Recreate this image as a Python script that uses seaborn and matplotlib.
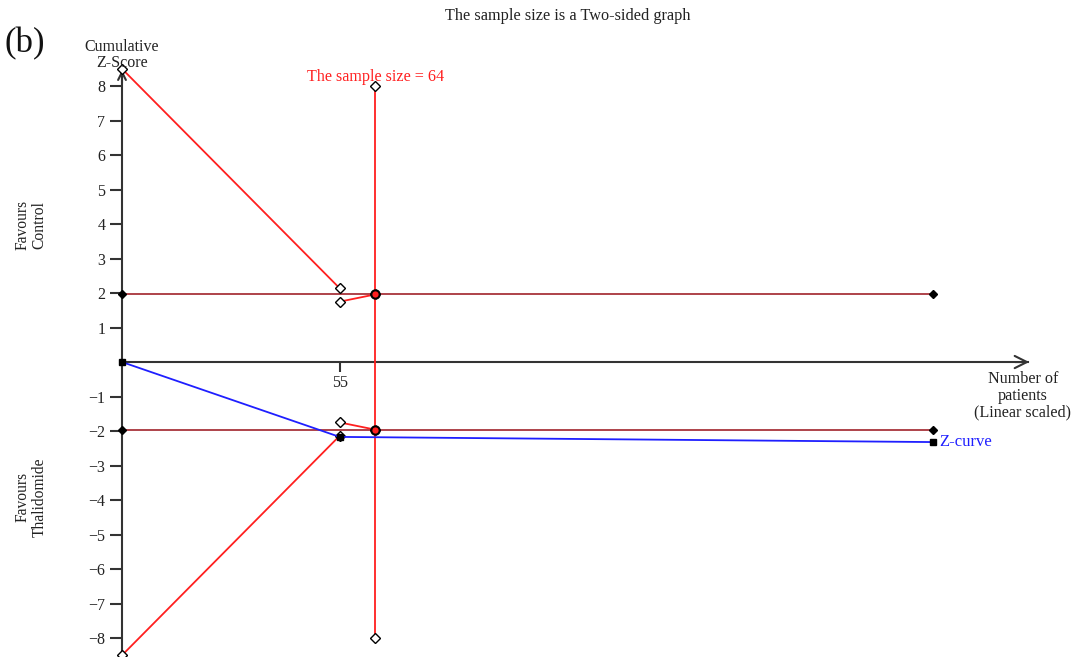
import matplotlib
matplotlib.use("Agg")
import matplotlib.pyplot as plt
import seaborn as sns
import pandas as pd

# ---- data ----
sample_size = 64
x_tick = [55]
y_ticks = [-8, -7, -6, -5, -4, -3, -2, -1, 1, 2, 3, 4, 5, 6, 7, 8]

# monitoring (alpha-spending) boundaries
upper_outer_x = [0, 55]
upper_outer_y = [8.5, 2.14]
upper_inner_x = [55, 64]
upper_inner_y = [1.75, 1.96]
lower_outer_x = [0, 55]
lower_outer_y = [-8.5, -2.14]
lower_inner_x = [55, 64]
lower_inner_y = [-1.75, -1.96]

# conventional boundaries
conv_x = [0, 64, 205]
conv_upper = [1.96, 1.96, 1.96]
conv_lower = [-1.96, -1.96, -1.96]

# Z-curve
z_x = [0, 55, 205]
z_y = [0.0, -2.17, -2.32]

# required sample size line
ss_y = [-8, 8]

sns.set_theme(style="white")
plt.rcParams["font.family"] = ["Liberation Serif", "DejaVu Serif"]

RED = "#ff1f1f"
BROWN = "#a8343c"
BLUE = "#1f1fff"
AX = "#333333"
TXT = "#222222"

fig = plt.figure(figsize=(10.74, 6.57), dpi=100)
W, H = 1074, 657
x0_px, x1_px = 122, 1032
y_bot_px, y_top_px = 657, 55
ax = fig.add_axes([x0_px / W, 1 - y_bot_px / H, (x1_px - x0_px) / W, (y_bot_px - y_top_px) / H])
ax.set_xlim(0, 230)
ax.set_ylim(-8.55, 8.9)
ax.patch.set_alpha(0)

def seg(x, y, color, lw=1.3, marker=None, mfc="white", mec="black", ms=5, z=3):
    df = pd.DataFrame({"x": x, "y": y})
    sns.lineplot(data=df, x="x", y="y", ax=ax, color=color, lw=lw, sort=False,
                 estimator=None, marker=marker, markerfacecolor=mfc,
                 markeredgecolor=mec, markersize=ms, markeredgewidth=1.0,
                 zorder=z, clip_on=False)

# conventional boundaries
seg(conv_x, conv_upper, BROWN, marker="D", mfc="black", ms=4)
seg(conv_x, conv_lower, BROWN, marker="D", mfc="black", ms=4)

# monitoring boundaries
seg(upper_outer_x, upper_outer_y, RED, marker="D", ms=5, z=4)
seg(upper_inner_x, upper_inner_y, RED, marker="D", ms=5, z=4)
seg(lower_outer_x, lower_outer_y, RED, marker="D", ms=5, z=4)
seg(lower_inner_x, lower_inner_y, RED, marker="D", ms=5, z=4)
# marker where inner boundary meets the conventional line
ax.plot([sample_size, sample_size], [1.96, -1.96], ls="none", marker="o", ms=6,
        mfc=RED, mec="black", mew=1.5, zorder=6)

# sample size line
seg([sample_size, sample_size], ss_y, RED, marker="D", ms=5, z=4)

# Z-curve
seg(z_x, z_y, BLUE, marker="s", mfc="black", ms=5, z=5)

# axes
for s in ["top", "right"]:
    ax.spines[s].set_visible(False)
ax.spines["left"].set_position(("data", 0))
ax.spines["left"].set_bounds(-8.6, 8.5)
ax.spines["left"].set_color(AX)
ax.spines["left"].set_linewidth(1.5)
ax.spines["bottom"].set_position(("data", 0))
ax.spines["bottom"].set_bounds(0, 229)
ax.spines["bottom"].set_color(AX)
ax.spines["bottom"].set_linewidth(1.5)
ax.annotate("", xy=(0, 8.55), xytext=(0, 8.0),
            arrowprops=dict(arrowstyle="->", color=AX, lw=1.5, mutation_scale=14))
ax.annotate("", xy=(230, 0), xytext=(225, 0),
            arrowprops=dict(arrowstyle="->", color=AX, lw=1.5, mutation_scale=22))

ax.set_yticks(y_ticks)
ax.set_yticklabels([f"{t}".replace("-", "\u2212") for t in y_ticks])
ax.set_xticks(x_tick)
ax.set_xticklabels([str(t) for t in x_tick])
ax.tick_params(axis="y", direction="out", length=9, width=1.5, color=AX,
               labelsize=11.5, pad=3, left=True, labelcolor=TXT)
ax.tick_params(axis="x", direction="out", length=7, width=1.5, color=AX,
               labelsize=11.5, pad=2, bottom=True, labelcolor=TXT)
ax.set_xlabel("")
ax.set_ylabel("")

# texts
ax.text(sample_size, 8.27, f"The sample size = {sample_size}", color=RED,
        ha="center", va="center", fontsize=11.6)
ax.text(206.5, z_y[-1], "Z-curve", color=BLUE, ha="left", va="center", fontsize=12)

fig.text(568 / W, 1 - 16 / H, "The sample size is a Two-sided graph",
         ha="center", va="center", fontsize=11.7, color=TXT)
fig.text(25 / W, 1 - 44 / H, "(b)", ha="center", va="center", fontsize=25, color="#111111")
fig.text(122 / W, 1 - 55 / H, "Cumulative\nZ-Score", ha="center", va="center",
         fontsize=11.5, linespacing=1.0, color=TXT)
fig.text(1023 / W, 1 - 396 / H, "Number of\npatients\n(Linear scaled)", ha="center",
         va="center", fontsize=11.6, linespacing=1.05, color=TXT)
fig.text(31 / W, 1 - 225 / H, "Favours\nControl", ha="center", va="center",
         rotation=90, fontsize=11.2, linespacing=1.1, color=TXT)
fig.text(31 / W, 1 - 497 / H, "Favours\nThalidomide", ha="center", va="center",
         rotation=90, fontsize=11.2, linespacing=1.1, color=TXT)

fig.savefig("out.png", dpi=100)
